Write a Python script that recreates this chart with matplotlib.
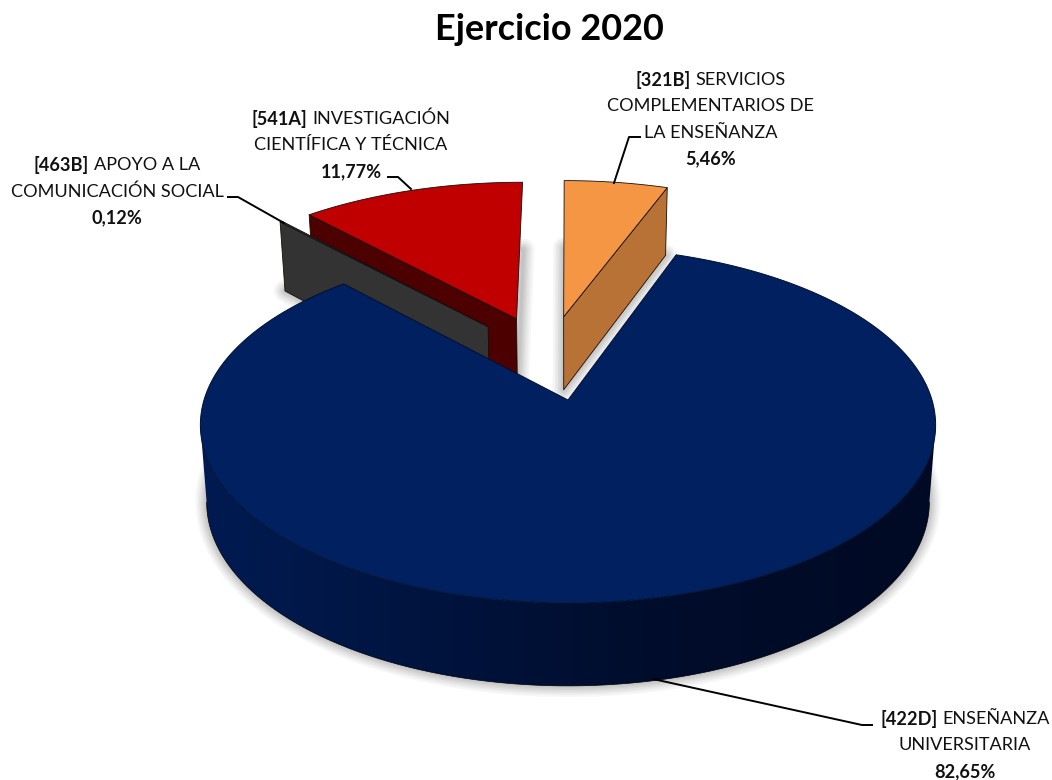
import numpy as np
import matplotlib
matplotlib.use("Agg")
import matplotlib.pyplot as plt
from matplotlib.colors import LinearSegmentedColormap
from matplotlib.patches import Polygon

# ---- data ----
title = "Ejercicio 2020"
codes = ["[321B]", "[422D]", "[463B]", "[541A]"]
names = [["SERVICIOS", "COMPLEMENTARIOS DE", "LA ENSEÑANZA"],
         ["ENSEÑANZA", "UNIVERSITARIA"],
         ["APOYO A LA", "COMUNICACIÓN SOCIAL"],
         ["INVESTIGACIÓN", "CIENTÍFICA Y TÉCNICA"]]
values = [5.46, 82.65, 0.12, 11.77]
pct_labels = ["5,46%", "82,65%", "0,12%", "11,77%"]

# ---- style ----
top_colors = ["#F59645", "#002060", "#333333", "#C00000"]
cut_colors = ["#B87236", "#001A50", "#333333", "#4D0000"]
FONT = "Lato"
LABEL_SIZE = 13.1
TITLE_SIZE = 25.9
LINE_H = 26.3
label_centres = [(710.5, 80), (965, 719), (117, 165.5), (351, 119)]
leaders = [[(614, 183), (629, 137), (640, 137)],
           [(653, 679), (862, 725), (872, 725)],
           [(228, 197), (238, 197), (284, 223)],
           [(388, 177), (398, 177), (411, 189)]]

# ---- projection of the pie ----
CX, CY, A, B = 568.0, 400.0, 364.0, 174.5
K, K2, H, F = 0.14, 0.084, 76.0, 0.983
EXPL = 0.26
OUTER_R = 1.015
BACK_DX = -0.005


def project(X, Y, lower=False):
    X, Y = np.asarray(X, float), np.asarray(Y, float)
    s = 1 / (1 - K * Y)
    if lower:
        return CX + A * X * s * F, CY + B * Y * s + H / (1 - K2 * Y)
    return CX + A * X * s, CY + B * Y * s


fig = plt.figure(figsize=(10.52, 7.8), dpi=100)
ax = fig.add_axes([0, 0, 1, 1])

vals = np.array(values, float)
edges = np.concatenate([[0], np.cumsum(vals) / vals.sum() * 2 * np.pi])
mids = (edges[:-1] + edges[1:]) / 2
dirs = np.c_[np.sin(mids), -np.cos(mids)]
imain = int(np.argmax(vals))
origins = EXPL * (dirs - dirs[imain])
origins[[i for i in range(len(vals)) if i != imain], 0] += BACK_DX
radii = [1.0 if i == imain else OUTER_R for i in range(len(vals))]


def wedge(i, lower=False):
    n = max(3, int((edges[i + 1] - edges[i]) * 60))
    t = np.linspace(edges[i], edges[i + 1], n)
    ox, oy = origins[i]
    X = np.r_[ox, ox + radii[i] * np.sin(t)]
    Y = np.r_[oy, oy - radii[i] * np.cos(t)]
    return np.c_[project(X, Y, lower)]


def cut_face(i, angle):
    ox, oy = origins[i]
    X = np.array([ox, ox + radii[i] * np.sin(angle)])
    Y = np.array([oy, oy - radii[i] * np.cos(angle)])
    a = np.c_[project(X, Y)]
    b = np.c_[project(X, Y, True)]
    return np.vstack([a, b[::-1]])


# soft shadows: the base of each slice, stroked in widening translucent bands
for i in range(len(vals)):
    poly = wedge(i, True)
    for lw in [16, 13, 10.5, 8, 6, 4, 2]:
        ax.add_patch(Polygon(poly, closed=True, fc="none", ec="#000000",
                             lw=lw, alpha=0.035, joinstyle="round", zorder=1))

# back slices
order = [3, 0, 2]
cut_angle = {3: edges[3], 0: edges[1], 2: edges[2]}
z = 2
for i in order:
    ax.add_patch(Polygon(cut_face(i, cut_angle[i]), closed=True, fc=cut_colors[i],
                         ec="#1a0d00", lw=0.6, joinstyle="round", zorder=z))
    ax.add_patch(Polygon(wedge(i), closed=True, fc=top_colors[i],
                         ec="#111111", lw=0.6, joinstyle="round", zorder=z + 0.5))
    z += 1

# rim of the main slice: a horizontal gradient clipped to the visible front rim
t = np.linspace(edges[imain], edges[imain + 1], 721)
t = t[-np.cos(t) >= K]
ox, oy = origins[imain]
xt, yt = project(ox + np.sin(t), oy - np.cos(t))
xb, yb = project(ox + np.sin(t), oy - np.cos(t), True)
rim_outline = np.r_[np.c_[xt, yt], np.c_[xb, yb][::-1]]
rim_cmap = LinearSegmentedColormap.from_list(
    "rim", [(0.0, "#001B52"), (0.6, "#000D2C"), (1.0, "#000A24")])
rim_patch = Polygon(rim_outline, closed=True, fc="none", ec="none", transform=ax.transData)
ax.add_patch(rim_patch)
img = ax.imshow(np.linspace(0, 1, 512)[None, :], cmap=rim_cmap, aspect="auto",
                extent=(200, 937, 720, 240), zorder=10, interpolation="bilinear")
img.set_clip_path(rim_patch)
ax.plot(xb, yb, color="#000000", lw=0.5, zorder=10.2)
ax.add_patch(Polygon(wedge(imain), closed=True, fc=top_colors[imain],
                     ec="#00102e", lw=0.7, joinstyle="round", zorder=11))

ax.set_xlim(0, 1052)
ax.set_ylim(780, 0)
ax.axis("off")

# leader lines
for pts in leaders:
    xs, ys = zip(*pts)
    ax.plot(xs, ys, color="black", lw=1.4, solid_joinstyle="round", zorder=12)

# text
ax.text(549.5, 30, title, ha="center", va="center", family=FONT, weight="bold",
        fontsize=TITLE_SIZE, color="black", zorder=13)

renderer = fig.canvas.get_renderer()


def run_width(s, weight):
    t_ = ax.text(0, 0, s, family=FONT, weight=weight, fontsize=LABEL_SIZE)
    w = t_.get_window_extent(renderer).width
    t_.remove()
    return w


for i, (cx, cy) in enumerate(label_centres):
    code, rest = codes[i], names[i]
    w_code = run_width(code, "bold")
    gap = run_width("a a", "normal") - run_width("aa", "normal")
    w_rest = run_width(rest[0], "normal")
    x0 = cx - (w_code + gap + w_rest) / 2
    ax.text(x0, cy, code, ha="left", va="center", family=FONT, weight="bold",
            fontsize=LABEL_SIZE, color="#111111", zorder=13)
    ax.text(x0 + w_code + gap, cy, rest[0], ha="left", va="center", family=FONT,
            fontsize=LABEL_SIZE, color="#111111", zorder=13)
    y = cy
    for line in rest[1:]:
        y += LINE_H
        ax.text(cx, y, line, ha="center", va="center", family=FONT,
                fontsize=LABEL_SIZE, color="#111111", zorder=13)
    y += LINE_H
    ax.text(cx, y, pct_labels[i], ha="center", va="center", family=FONT, weight="bold",
            fontsize=LABEL_SIZE, color="#111111", zorder=13)

fig.savefig("out.png", dpi=100, facecolor="white")
